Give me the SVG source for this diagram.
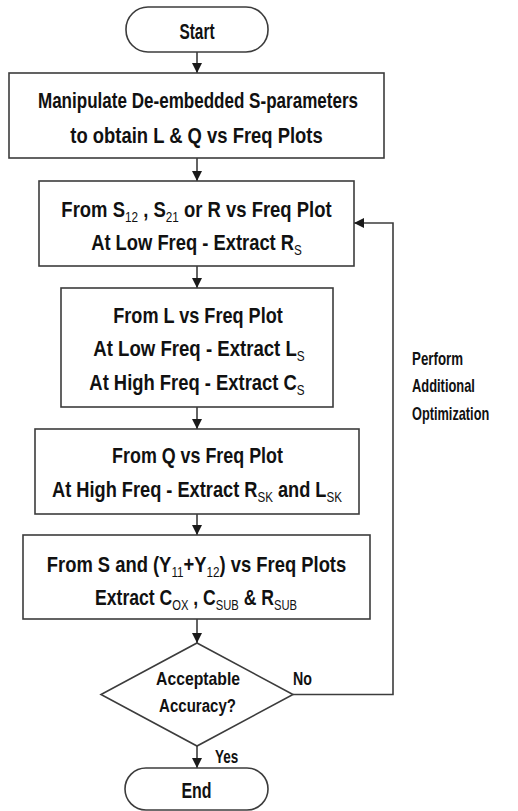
<svg xmlns="http://www.w3.org/2000/svg" width="518" height="811" viewBox="0 0 518 811">
  <style>
    .shape { fill: #ffffff; stroke: #3c3c3c; stroke-width: 1.6; }
    .link { fill: none; stroke: #3c3c3c; stroke-width: 1.6; }
    .t { font-family: "Liberation Sans", Arial, sans-serif; font-weight: bold; font-size: 22px; fill: #111111; text-anchor: middle; }
    .s { font-weight: normal; font-size: 14px; }
    .d { font-size: 18px; }
    .lbl { font-family: "Liberation Sans", Arial, sans-serif; font-weight: bold; font-size: 18px; fill: #111111; }
  </style>
  <defs>
    <marker id="arrow" viewBox="0 0 10 10" refX="10" refY="5" markerWidth="10" markerHeight="10" markerUnits="userSpaceOnUse" orient="auto">
      <path d="M0,0 L10,5 L0,10 Z" fill="#1a1a1a"/>
    </marker>
  </defs>
  <rect width="518" height="811" fill="#ffffff"/>

  <!-- connectors and their labels -->
  <g id="connectors">
    <line class="link" x1="197" y1="52" x2="197" y2="73" marker-end="url(#arrow)"/>
    <line class="link" x1="197" y1="158" x2="197" y2="181" marker-end="url(#arrow)"/>
    <line class="link" x1="197" y1="266" x2="197" y2="288" marker-end="url(#arrow)"/>
    <line class="link" x1="197" y1="407" x2="197" y2="429" marker-end="url(#arrow)"/>
    <line class="link" x1="197" y1="514" x2="197" y2="535" marker-end="url(#arrow)"/>
    <line class="link" x1="197" y1="619" x2="197" y2="643" marker-end="url(#arrow)"/>
    <line class="link" x1="197" y1="746" x2="197" y2="768" marker-end="url(#arrow)"/>
    <polyline class="link" points="293,694.5 393,694.5 393,223 354,223" marker-end="url(#arrow)"/>
    <text class="lbl" transform="translate(293,685) scale(0.79,1)">No</text>
    <text class="lbl" transform="translate(215,763) scale(0.75,1)">Yes</text>
    <text class="lbl" transform="translate(412,365) scale(0.74,1)">Perform</text>
    <text class="lbl" transform="translate(412,392) scale(0.716,1)">Additional</text>
    <text class="lbl" transform="translate(412,420) scale(0.709,1)">Optimization</text>
  </g>

  <g id="start">
    <rect class="shape" x="126" y="7" width="142" height="45" rx="22" ry="22"/>
    <text class="t" transform="translate(197,39) scale(0.70,1)">Start</text>
  </g>

  <g id="manipulate">
    <rect class="shape" x="9" y="73" width="375" height="85"/>
    <text class="t" transform="translate(198,108) scale(0.775,1)">Manipulate De-embedded S-parameters</text>
    <text class="t" transform="translate(196.5,143) scale(0.838,1)">to obtain L &amp; Q vs Freq Plots</text>
  </g>

  <g id="extract-rs">
    <rect class="shape" x="39" y="181" width="315" height="85"/>
    <text class="t" transform="translate(196.5,217) scale(0.84,1)">From S<tspan class="s" dy="5">12</tspan><tspan dy="-5"> , S</tspan><tspan class="s" dy="5">21</tspan><tspan dy="-5"> or R vs Freq Plot</tspan></text>
    <text class="t" transform="translate(196.5,250) scale(0.835,1)">At Low Freq - Extract R<tspan class="s" dy="5">S</tspan></text>
  </g>

  <g id="extract-ls-cs">
    <rect class="shape" x="61" y="288" width="272" height="119"/>
    <text class="t" transform="translate(198,323) scale(0.823,1)">From L vs Freq Plot</text>
    <text class="t" transform="translate(199,356) scale(0.846,1)">At Low Freq - Extract L<tspan class="s" dy="5">S</tspan></text>
    <text class="t" transform="translate(197,390) scale(0.837,1)">At High Freq - Extract C<tspan class="s" dy="5">S</tspan></text>
  </g>

  <g id="extract-rsk-lsk">
    <rect class="shape" x="35" y="429" width="324" height="85"/>
    <text class="t" transform="translate(197.5,463) scale(0.813,1)">From Q vs Freq Plot</text>
    <text class="t" transform="translate(197,497) scale(0.828,1)">At High Freq - Extract R<tspan class="s" dy="5">SK</tspan><tspan dy="-5"> and L</tspan><tspan class="s" dy="5">SK</tspan></text>
  </g>

  <g id="extract-sub">
    <rect class="shape" x="23" y="535" width="347" height="84"/>
    <text class="t" transform="translate(196.5,572) scale(0.836,1)">From S and (Y<tspan class="s" dy="5">11</tspan><tspan dy="-5">+Y</tspan><tspan class="s" dy="5">12</tspan><tspan dy="-5">) vs Freq Plots</tspan></text>
    <text class="t" transform="translate(196,605) scale(0.80,1)">Extract C<tspan class="s" dy="5">OX</tspan><tspan dy="-5"> , C</tspan><tspan class="s" dy="5">SUB</tspan><tspan dy="-5"> &amp; R</tspan><tspan class="s" dy="5">SUB</tspan></text>
  </g>

  <g id="decision">
    <polygon class="shape" points="197,643 293,694.5 197,746 101,694.5"/>
    <text class="t d" transform="translate(198,685) scale(0.875,1)">Acceptable</text>
    <text class="t d" transform="translate(197.5,712) scale(0.837,1)">Accuracy?</text>
  </g>

  <g id="end">
    <rect class="shape" x="125" y="768" width="143" height="42" rx="21" ry="21"/>
    <text class="t" transform="translate(196.5,798) scale(0.725,1)">End</text>
  </g>
</svg>
